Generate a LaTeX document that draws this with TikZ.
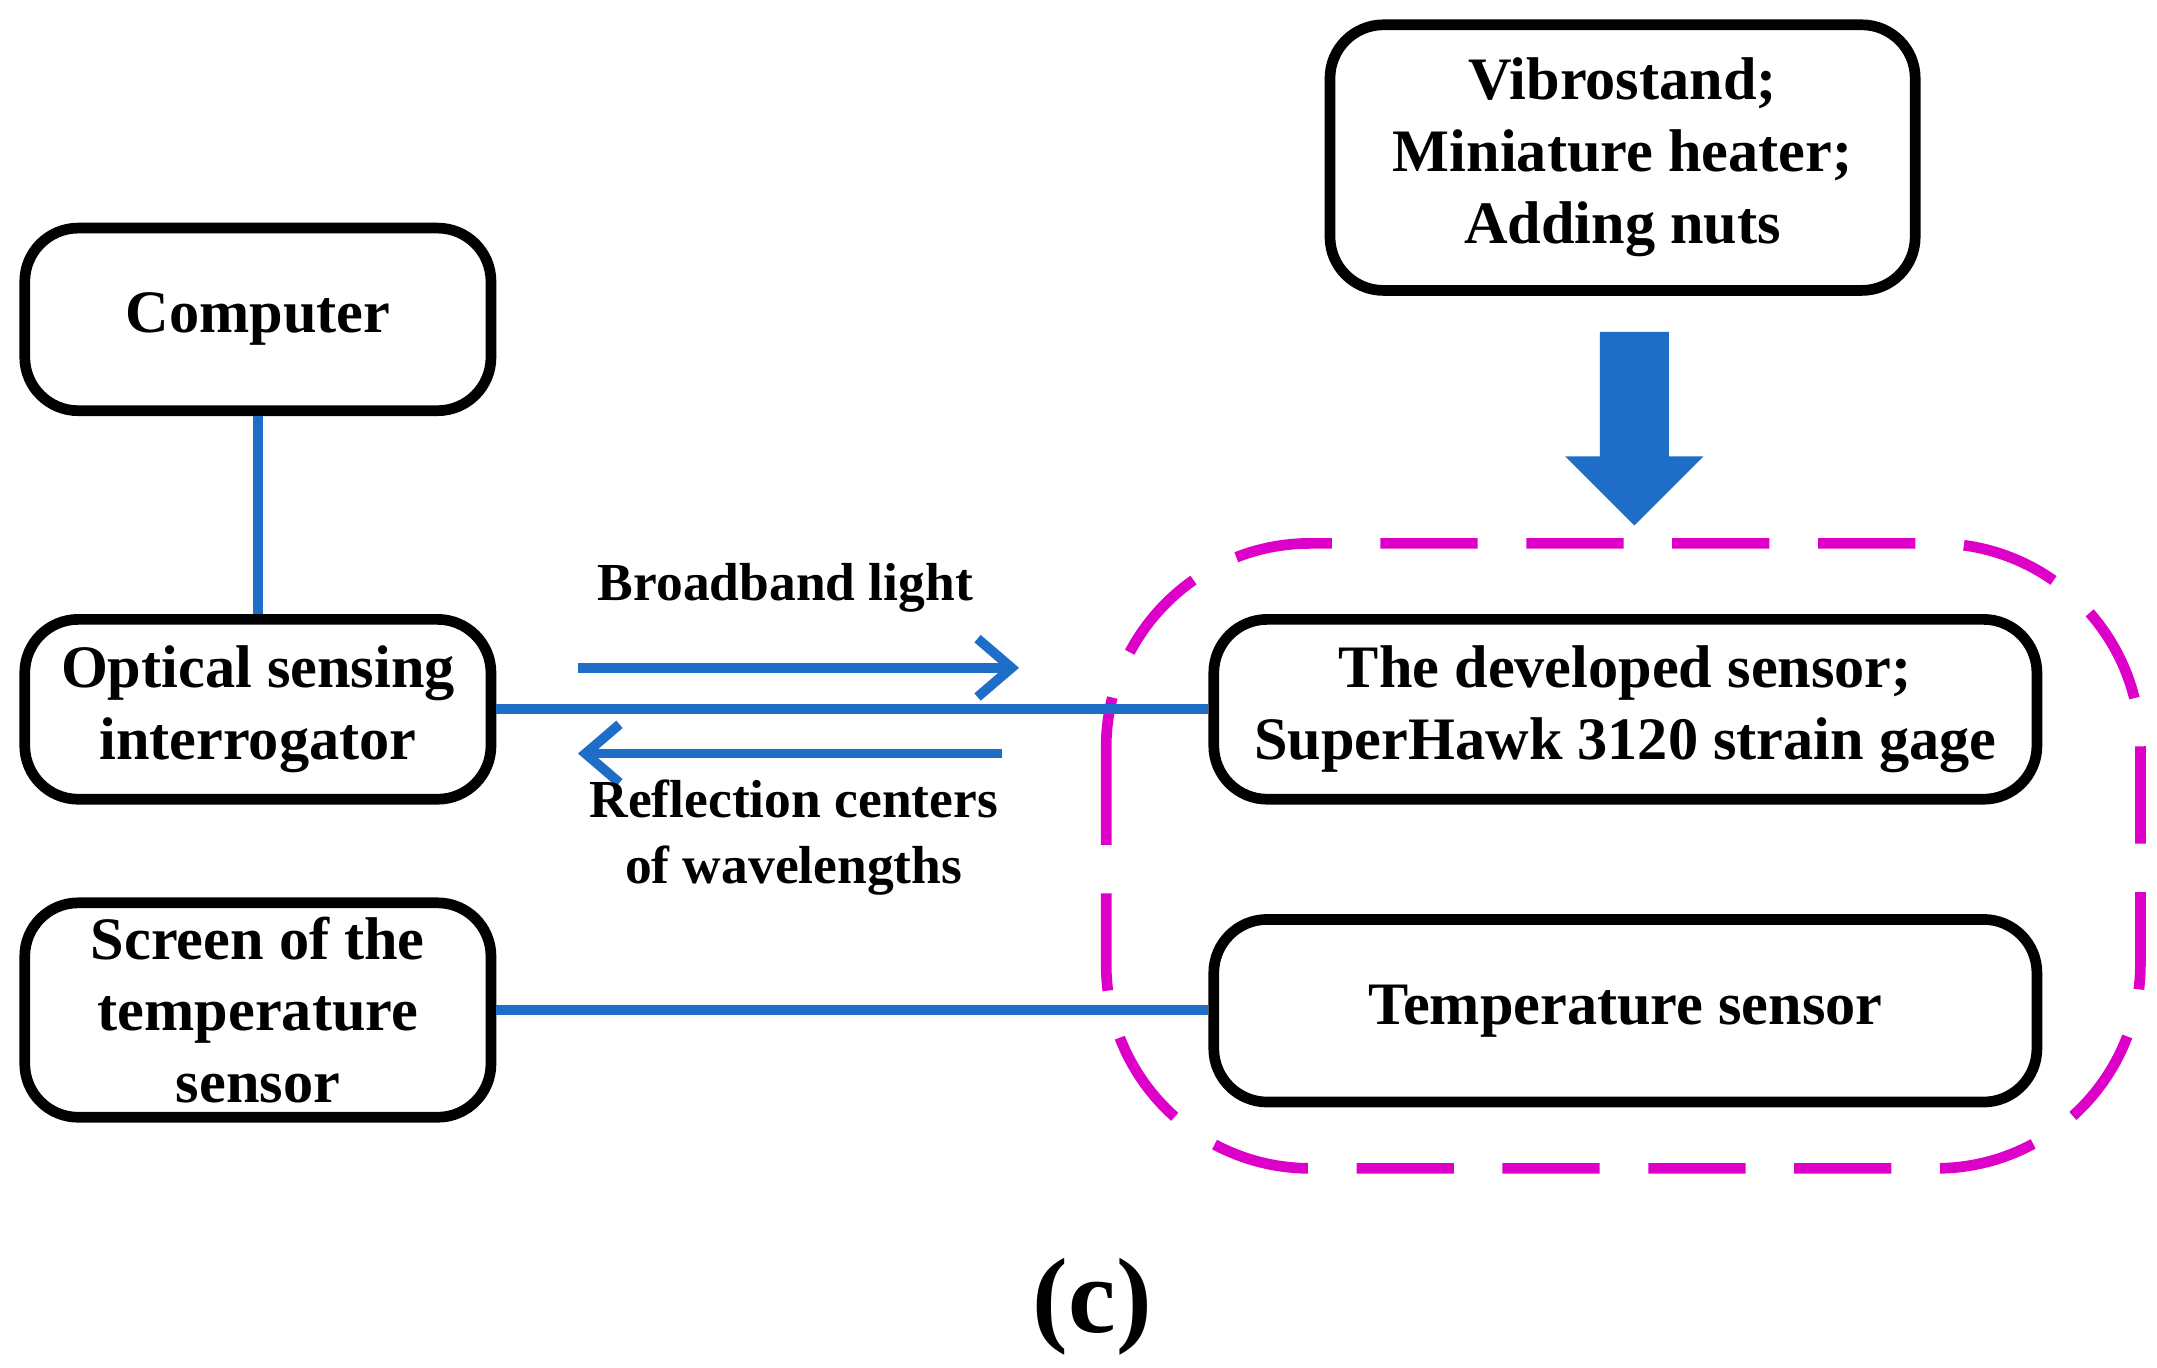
\documentclass[tikz,border=0pt]{standalone}
\usepackage{fontspec}
\setmainfont{Liberation Serif}
\usetikzlibrary{arrows.meta}
\definecolor{lblue}{RGB}{30,110,200}
\definecolor{mag}{RGB}{220,0,200}
\begin{document}
\begin{tikzpicture}[x=0.01cm,y=-0.01cm,
  box/.style={draw,line width=2.2pt,rounded corners=11pt,align=center,font=\bfseries\fontsize{12.4}{14.8}\selectfont,inner sep=0pt},
  lbl/.style={align=center,font=\bfseries\fontsize{11}{13.6}\selectfont},
  conn/.style={draw=lblue,line width=2pt},
  arr/.style={conn,-{Straight Barb[length=7pt,width=12pt]}}]
\useasboundingbox (0,0) rectangle (1560,989);
\node[box,minimum width=3.37cm,minimum height=1.32cm] (comp) at (186.5,231) {Computer};
\node[box,minimum width=3.37cm,minimum height=1.30cm] (opt) at (186.5,513) {Optical sensing\\interrogator};
\node[box,minimum width=3.37cm,minimum height=1.55cm] (scr) at (186.5,730.5) {Screen of the\\temperature\\sensor};
\node[box,minimum width=4.23cm,minimum height=1.92cm] (vib) at (1173.5,114) {Vibrostand;\\Miniature heater;\\Adding nuts};
\node[box,minimum width=5.95cm,minimum height=1.30cm] (dev) at (1175.5,513) {The developed sensor;\\SuperHawk 3120 strain gage};
\node[box,minimum width=5.95cm,minimum height=1.32cm] (temp) at (1175.5,731) {Temperature sensor};
\draw[mag,line width=2.2pt,dash pattern=on 20pt off 10pt,rounded corners=42pt] (800,393) rectangle (1548,845);
\fill[lblue] (1157,240) -- (1207,240) -- (1207,330) -- (1232,330) -- (1182,380) -- (1132,330) -- (1157,330) -- cycle;
\draw[conn] (comp.south) -- (opt.north);
\draw[conn] (opt.east) -- (dev.west);
\draw[conn] (scr.east) -- (scr.east -| temp.west);
\coordinate (a1) at (418,483); \coordinate (a2) at (737,483);
\coordinate (b1) at (725,545); \coordinate (b2) at (418,545);
\draw[arr] (a1) -- (a2);
\draw[arr] (b1) -- (b2);
\node[lbl] (bl) at (568,425) {Broadband light};
\node[lbl] (rc) at (574,606) {Reflection centers\\of wavelengths};
\node[font=\bfseries\fontsize{22}{24}\selectfont] (c) at (790,945) {(c)};
\end{tikzpicture}
\end{document}
